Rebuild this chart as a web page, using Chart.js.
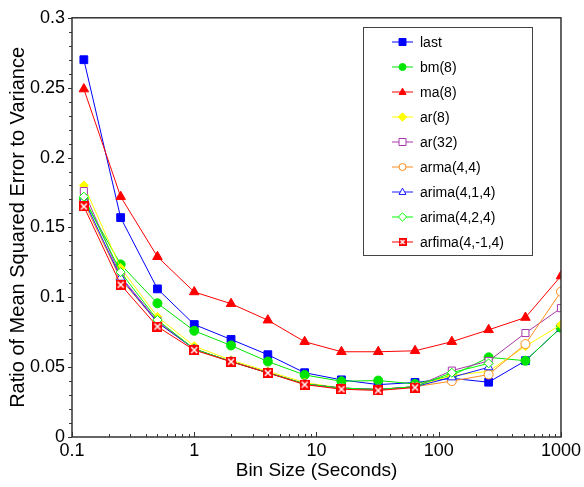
<!DOCTYPE html>
<html lang="en">
<head>
  <meta charset="UTF-8">
  <title>Prediction error vs bin size</title>
  <script src="https://cdn.jsdelivr.net/npm/chart.js"></script>
  <style>
    body { margin: 0; background: #fff; }
    #wrap { position: relative; width: 584px; height: 487px; }
  </style>
</head>
<body>
  <div id="wrap"><canvas id="chart" width="584" height="487"></canvas></div>

  <script>
    const binSizes = [0.125, 0.25, 0.5, 1, 2, 4, 8, 16, 32, 64, 128, 256, 512, 1000];

    const lastVals     = [0.270, 0.157, 0.106, 0.0805, 0.0698, 0.0589, 0.046, 0.0409, 0.0375, 0.039, 0.042, 0.0392, 0.0546, 0.0783];
    const bm8Vals      = [0.170, 0.1235, 0.0957, 0.076, 0.0655, 0.054, 0.0444, 0.0399, 0.0404, 0.038, 0.044, 0.057, 0.0546, 0.0783];
    const ma8Vals      = [0.249, 0.172, 0.129, 0.1038, 0.0954, 0.0836, 0.0682, 0.061, 0.061, 0.0617, 0.0682, 0.0767, 0.0855, 0.1152];
    const ar8Vals      = [0.180, 0.121, 0.086, 0.065, 0.055, 0.047, 0.039, 0.035, 0.034, 0.036, 0.044, 0.047, 0.065, 0.0803];
    const ar32Vals     = [0.176, 0.115, 0.083, 0.063, 0.054, 0.046, 0.038, 0.035, 0.034, 0.036, 0.0475, 0.0544, 0.0744, 0.0922];
    const arma44Vals   = [0.168, 0.113, 0.082, 0.063, 0.054, 0.046, 0.038, 0.035, 0.034, 0.036, 0.040, 0.0447, 0.0665, 0.104];
    const arima414Vals = [0.170, 0.114, 0.082, 0.063, 0.054, 0.046, 0.038, 0.035, 0.034, 0.036, 0.0427, 0.0499];
    const arima424Vals = [0.172, 0.118, 0.0838, 0.063, 0.054, 0.046, 0.038, 0.035, 0.034, 0.036, 0.046, 0.0527];
    const arfimaVals   = [0.165, 0.109, 0.079, 0.0622, 0.0539, 0.0459, 0.0375, 0.0342, 0.0333, 0.0354];

    const xTickLabels = [0.1, 1, 10, 100, 1000];
    const yTickLabels = [0, 0.05, 0.1, 0.15, 0.2, 0.25, 0.3];

    const FONT = "'Liberation Sans', Arial, sans-serif";

    // red square with a white cross, used for arfima
    function xBox(size) {
      const c = document.createElement("canvas");
      c.width = size; c.height = size;
      const g = c.getContext("2d");
      g.fillStyle = "#ff0000";
      g.fillRect(0, 0, size, size);
      g.strokeStyle = "#ffffff";
      g.lineWidth = 1.5;
      g.beginPath();
      g.moveTo(2, 2); g.lineTo(size - 2, size - 2);
      g.moveTo(size - 2, 2); g.lineTo(2, size - 2);
      g.stroke();
      return c;
    }

    const series = [
      { label: "last",           vals: lastVals,     color: "#0000ff", style: "rect",     fill: true,  r: 5.5 },
      { label: "bm(8)",          vals: bm8Vals,      color: "#00e600", style: "circle",   fill: true,  r: 4.5 },
      { label: "ma(8)",          vals: ma8Vals,      color: "#ff0000", style: "triangle", fill: true,  r: 5.5 },
      { label: "ar(8)",          vals: ar8Vals,      color: "#ffff00", style: "rectRot",  fill: true,  r: 4.5 },
      { label: "ar(32)",         vals: ar32Vals,     color: "#a838a8", style: "rect",     fill: false, r: 5 },
      { label: "arma(4,4)",      vals: arma44Vals,   color: "#ff8c1a", style: "circle",   fill: false, r: 4.5 },
      { label: "arima(4,1,4)",   vals: arima414Vals, color: "#1a1aff", style: "triangle", fill: false, r: 5 },
      { label: "arima(4,2,4)",   vals: arima424Vals, color: "#00ff00", style: "rectRot",  fill: false, r: 4.5 },
      { label: "arfima(4,-1,4)", vals: arfimaVals,   color: "#ff0000", style: "xbox",     fill: true,  r: 5 }
    ];

    const boxBig = xBox(10);
    const boxSmall = xBox(8);

    const datasets = series.map((s, i) => ({
      label: s.label,
      data: s.vals.map((v, j) => ({ x: binSizes[j], y: v })),
      borderColor: s.color,
      borderWidth: 1,
      pointStyle: s.style === "xbox" ? boxBig : s.style,
      pointRadius: s.r,
      pointBackgroundColor: s.fill ? s.color : "#ffffff",
      pointBorderColor: s.color,
      pointBorderWidth: 1,
      tension: 0,
      order: -i
    }));

    function drawMarker(ctx, s, x, y, r) {
      if (s.style === "xbox") {
        ctx.drawImage(boxSmall, x - 4, y - 4);
        return;
      }
      ctx.beginPath();
      if (s.style === "rect") {
        ctx.rect(x - r, y - r, 2 * r, 2 * r);
      } else if (s.style === "circle") {
        ctx.arc(x, y, r, 0, Math.PI * 2);
      } else if (s.style === "triangle") {
        ctx.moveTo(x, y - r * 1.1);
        ctx.lineTo(x + r, y + r * 0.7);
        ctx.lineTo(x - r, y + r * 0.7);
        ctx.closePath();
      } else if (s.style === "rectRot") {
        ctx.moveTo(x, y - r * 1.2);
        ctx.lineTo(x + r * 1.2, y);
        ctx.lineTo(x, y + r * 1.2);
        ctx.lineTo(x - r * 1.2, y);
        ctx.closePath();
      }
      ctx.fillStyle = s.fill ? s.color : "#ffffff";
      ctx.fill();
      ctx.strokeStyle = s.color;
      ctx.lineWidth = 1;
      ctx.stroke();
    }

    const frame = {
      id: "frame",
      afterDraw(chart) {
        const { ctx, chartArea: a, scales } = chart;
        ctx.save();
        ctx.strokeStyle = "#333";
        ctx.lineWidth = 1.5;
        ctx.strokeRect(a.left, a.top, a.right - a.left, a.bottom - a.top);

        // y ticks, outward
        ctx.lineWidth = 1;
        for (let k = 0; k <= 30; k++) {
          const py = Math.round(scales.y.getPixelForValue(k / 100)) + 0.5;
          const len = k % 5 === 0 ? 4 : 3;
          ctx.beginPath();
          ctx.moveTo(a.left - len, py);
          ctx.lineTo(a.left, py);
          ctx.stroke();
        }
        // x ticks, inward
        for (let e = -1; e <= 3; e++) {
          for (let m = 1; m <= 9; m++) {
            const v = m * Math.pow(10, e);
            if (v > 1000.0001) break;
            const px = Math.round(scales.x.getPixelForValue(v)) + 0.5;
            const len = m === 1 ? 5 : 3;
            ctx.beginPath();
            ctx.moveTo(px, a.bottom);
            ctx.lineTo(px, a.bottom - len);
            ctx.stroke();
          }
        }

        // legend box
        const lx = 363.5, ly = 27.5, lw = 169, lh = 228;
        ctx.fillStyle = "#fff";
        ctx.fillRect(lx, ly, lw, lh);
        ctx.strokeStyle = "#444";
        ctx.strokeRect(lx, ly, lw, lh);
        ctx.font = "14px " + FONT;
        ctx.textBaseline = "middle";
        series.forEach((s, i) => {
          const y = 42 + i * 25;
          ctx.strokeStyle = s.color;
          ctx.lineWidth = 1;
          ctx.beginPath();
          ctx.moveTo(392, y);
          ctx.lineTo(413, y);
          ctx.stroke();
          drawMarker(ctx, s, 402.5, y, 3.5);
          ctx.fillStyle = "#000";
          ctx.fillText(s.label, 420, y + 1);
        });
        ctx.restore();
      }
    };

    new Chart(document.getElementById("chart"), {
      type: "line",
      data: { datasets: datasets },
      options: {
        responsive: false,
        animation: false,
        devicePixelRatio: 1,
        layout: { padding: { left: 0, top: 15, right: 22, bottom: 0 } },
        plugins: { legend: { display: false }, tooltip: { enabled: false } },
        scales: {
          x: {
            type: "logarithmic",
            min: 0.1,
            max: 1000,
            grid: { display: false, drawTicks: false },
            border: { display: false },
            ticks: {
              autoSkip: false,
              maxRotation: 0,
              padding: 3,
              color: "#000",
              font: { family: FONT, size: 18 },
              callback: (v) => {
                const hit = xTickLabels.find(t => Math.abs(t - v) < t * 1e-6);
                return hit !== undefined ? String(hit) : "";
              }
            },
            title: {
              display: true,
              text: "Bin Size (Seconds)",
              color: "#000",
              font: { family: FONT, size: 19 },
              padding: { top: 0, bottom: 5 }
            },
            afterFit: (scale) => { scale.height = 50; }
          },
          y: {
            min: 0,
            max: 0.3,
            grid: { display: false, drawTicks: false },
            border: { display: false },
            afterBuildTicks: (scale) => {
              scale.ticks = yTickLabels.map(v => ({ value: v }));
            },
            ticks: {
              padding: 7,
              color: "#000",
              font: { family: FONT, size: 18 },
              callback: (v) => String(Math.round(v * 100) / 100)
            },
            title: {
              display: true,
              text: "Ratio of Mean Squared Error to Variance",
              color: "#000",
              font: { family: FONT, size: 20 },
              padding: { top: 6, bottom: 0 }
            },
            afterFit: (scale) => { scale.width = 72; }
          }
        }
      },
      plugins: [frame]
    });
  </script>
</body>
</html>
